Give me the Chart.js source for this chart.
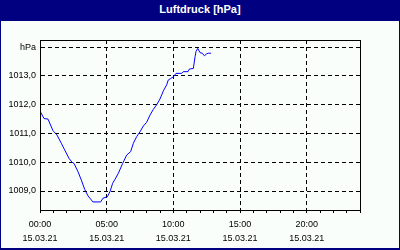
<!DOCTYPE html>
<html>
<head>
<meta charset="utf-8">
<script src="https://cdn.jsdelivr.net/npm/chart.js@4.4.0/dist/chart.umd.min.js"></script>
<style>
    body { margin: 0; }
    #rahmen { position: relative; width: 400px; height: 250px; background: #000080; }
    #titel {
        position: absolute; left: 0; top: 0; width: 400px; height: 21px;
        color: #fff; font: bold 11px "Liberation Sans", sans-serif;
        text-align: center; line-height: 19px;
    }
    #flaeche {
        position: absolute; left: 1px; top: 21px; width: 398px; height: 227px;
        background: #f9fefb;
    }
</style>
</head>
<body>
<div id="rahmen">
    <div id="titel">Luftdruck [hPa]</div>
    <div id="flaeche"><canvas id="myChart" width="398" height="227"></canvas></div>
</div>
<script>
// Messwerte: Stunden seit 00:00 am 15.03.21 und Luftdruck in hPa
var stunden = [0, 0.3, 0.6, 0.97, 1.27, 1.6, 1.85, 2.17, 2.4, 2.55, 2.85, 3.1, 3.35, 3.6, 3.85, 3.97,
    4.55, 4.72, 5.05, 5.25, 5.45, 5.63, 5.88, 6.2, 6.5, 6.8, 7.0, 7.25, 7.5, 7.75, 8.0, 8.25, 8.5,
    8.75, 9.0, 9.25, 9.5, 9.62, 9.8, 10.0, 10.2, 10.63, 10.75, 11.1, 11.2, 11.5, 11.63, 11.7, 11.83,
    12.0, 12.17, 12.33, 12.5, 12.62, 12.83];
var luftdruck = [1011.78, 1011.52, 1011.5, 1011.1, 1010.95, 1010.66, 1010.43, 1010.14, 1010.0, 1009.96,
    1009.67, 1009.38, 1009.06, 1008.83, 1008.69, 1008.62, 1008.62, 1008.75, 1008.8, 1008.98, 1009.27,
    1009.41, 1009.62, 1009.96, 1010.25, 1010.37, 1010.66, 1010.89, 1011.06, 1011.26, 1011.39, 1011.64,
    1011.84, 1012.0, 1012.2, 1012.48, 1012.69, 1012.86, 1012.91, 1012.97, 1013.09, 1013.09, 1013.15,
    1013.15, 1013.24, 1013.26, 1013.67, 1013.85, 1013.96, 1013.81, 1013.79, 1013.7, 1013.77, 1013.79,
    1013.79];

// Achsenbeschriftungen
var yTicks = [1009, 1010, 1011, 1012, 1013, 1014];
var yTickLabels = ['1009,0', '1010,0', '1011,0', '1012,0', '1013,0', 'hPa'];
var xHauptTicks = [0, 5, 10, 15, 20];
var xTickLabels = [['00:00', '15.03.21'], ['05:00', '15.03.21'], ['10:00', '15.03.21'],
    ['15:00', '15.03.21'], ['20:00', '15.03.21']];

var punkte = stunden.map(function (h, i) { return { x: h, y: luftdruck[i] }; });

// Rahmen um die Zeichenfläche
var rahmenPlugin = {
    id: 'rahmen',
    afterDraw: function (chart) {
        var a = chart.chartArea;
        var ctx = chart.ctx;
        ctx.save();
        ctx.strokeStyle = '#000';
        ctx.lineWidth = 1;
        ctx.strokeRect(Math.round(a.left) + 0.5, Math.round(a.top) + 0.5,
            Math.round(a.right - a.left), Math.round(a.bottom - a.top));
        ctx.restore();
    }
};

var schrift = { family: '"Liberation Sans", sans-serif', size: 9 };

var ctx = document.getElementById('myChart').getContext('2d');
var myChart = new Chart(ctx, {
    type: 'line',
    data: {
        datasets: [{
            data: punkte,
            borderColor: '#0000ff',
            borderWidth: 1,
            pointRadius: 0,
            tension: 0,
            fill: false
        }]
    },
    options: {
        responsive: false,
        animation: false,
        devicePixelRatio: 1,
        layout: { padding: { left: 0, top: 19, right: 39, bottom: 0 } },
        plugins: { legend: { display: false }, tooltip: { enabled: false } },
        scales: {
            x: {
                type: 'linear',
                min: 0,
                max: 24,
                afterBuildTicks: function (scale) {
                    var t = [];
                    for (var h = 0; h <= 24; h++) t.push({ value: h });
                    scale.ticks = t;
                },
                afterFit: function (scale) { scale.height = 38; },
                grid: {
                    color: function (c) {
                        var v = c.tick ? c.tick.value : -1;
                        return (v > 0 && v < 24 && v % 5 === 0) ? '#000' : 'rgba(0,0,0,0)';
                    },
                    tickColor: '#000',
                    tickLength: 3,
                    lineWidth: 1
                },
                border: { display: true, color: '#000', width: 1, dash: [4, 3] },
                ticks: {
                    autoSkip: false,
                    maxRotation: 0,
                    padding: 4,
                    color: '#000',
                    font: Object.assign({ lineHeight: 1.6 }, schrift),
                    callback: function (value) {
                        var i = xHauptTicks.indexOf(value);
                        return i >= 0 ? xTickLabels[i] : '';
                    }
                }
            },
            y: {
                min: 1008.34,
                max: 1014.25,
                afterBuildTicks: function (scale) {
                    scale.ticks = yTicks.map(function (v) { return { value: v }; });
                },
                afterFit: function (scale) { scale.width = 39; },
                grid: { color: '#000', drawTicks: false, lineWidth: 1 },
                border: { display: true, color: '#000', width: 1, dash: [4, 3] },
                ticks: {
                    padding: 4,
                    color: '#000',
                    font: schrift,
                    callback: function (value) {
                        var i = yTicks.indexOf(value);
                        return i >= 0 ? yTickLabels[i] : '';
                    }
                }
            }
        }
    },
    plugins: [rahmenPlugin]
});
</script>
</body>
</html>
